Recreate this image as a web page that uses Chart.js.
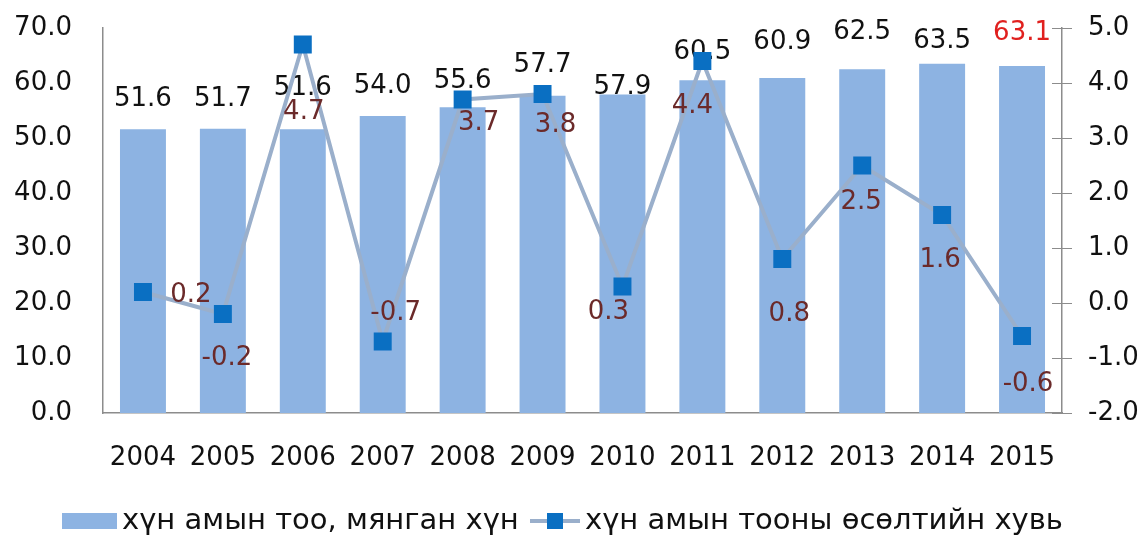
<!DOCTYPE html>
<html>
<head>
<meta charset="utf-8">
<script src="https://cdn.jsdelivr.net/npm/chart.js@4.4.1/dist/chart.umd.min.js"></script>
<style>
  html, body { margin: 0; padding: 0; background: #ffffff; }
  #wrap { width: 1148px; height: 546px; position: relative; }
</style>
</head>
<body>
<div id="wrap"><canvas id="c" width="1148" height="546"></canvas></div>
<script>
// ---- data ----
const years = ['2004','2005','2006','2007','2008','2009','2010','2011','2012','2013','2014','2015'];
const population = [51.6, 51.7, 51.6, 54.0, 55.6, 57.7, 57.9, 60.5, 60.9, 62.5, 63.5, 63.1];
const growth = [0.2, -0.2, 4.7, -0.7, 3.7, 3.8, 0.3, 4.4, 0.8, 2.5, 1.6, -0.6];
const seriesNames = ['хүн амын тоо, мянган хүн', 'хүн амын тооны өсөлтийн хувь'];
const leftAxis = { min: 0, max: 70, step: 10 };
const rightAxis = { min: -2, max: 5, step: 1 };

// ---- styles ----
const FONT = 'DejaVu Sans';
const FSIZE = 26;
const barColor = '#8DB3E2';
const lineColor = '#9AAFCB';
const markerColor = '#0A6FC2';
const lineLabelColor = '#6B2A2A';
const axisColor = '#8C8C8C';
// label placement (dy relative to bar top; dx,dy relative to marker centre)
const barLabelDy = [-30, -29, -41, -30, -26, -30, -7, -28, -36, -37, -23, -33];
const barLabelColors = ['#111','#111','#111','#111','#111','#111','#111','#111','#111','#111','#111','#E0201E'];
const lineLabelOffsets = [[48,3],[4,44],[1,68],[13,-28],[16,24],[13,31],[-14,26],[-10,45],[7,55],[-1,37],[-2,45],[6,48]];

const labelsPlugin = {
  id: 'labelsPlugin',
  afterDatasetDraw(chart, args) {
    const ds = chart.data.datasets[args.index];
    const ctx = chart.ctx;
    if (ds.type === 'bar') {
      const meta = args.meta;
      ctx.save();
      ctx.font = FSIZE + 'px "' + FONT + '"';
      ctx.textAlign = 'center';
      ctx.textBaseline = 'middle';
      meta.data.forEach((el, i) => {
        ctx.fillStyle = barLabelColors[i];
        ctx.fillText(ds.data[i].toFixed(1), el.x, el.y + barLabelDy[i]);
      });
      ctx.restore();
    }
  },
  afterDatasetsDraw(chart) {
    const ctx = chart.ctx;
    const idx = chart.data.datasets.findIndex(d => d.type === 'line');
    const meta = chart.getDatasetMeta(idx);
    const ds = chart.data.datasets[idx];
    ctx.save();
    ctx.font = FSIZE + 'px "' + FONT + '"';
    ctx.textAlign = 'center';
    ctx.textBaseline = 'middle';
    ctx.fillStyle = lineLabelColor;
    meta.data.forEach((el, i) => {
      const o = lineLabelOffsets[i];
      ctx.fillText(ds.data[i].toFixed(1), el.x + o[0], el.y + o[1]);
    });
    ctx.restore();
  },
  afterDraw(chart) {
    const ctx = chart.ctx;
    // right-axis tick marks crossing the axis line
    const s = chart.scales.y1;
    ctx.save();
    ctx.strokeStyle = axisColor;
    ctx.lineWidth = 1;
    s.ticks.forEach((t, i) => {
      const y = Math.round(s.getPixelForTick(i)) + 0.5;
      ctx.beginPath();
      ctx.moveTo(s.left - 10, y);
      ctx.lineTo(s.left + 10, y);
      ctx.stroke();
    });
    // legend
    const ly = 521;
    ctx.fillStyle = barColor;
    ctx.fillRect(62, ly - 8, 55, 16);
    ctx.font = '29px "' + FONT + '"';
    ctx.textBaseline = 'middle';
    ctx.textAlign = 'left';
    ctx.fillStyle = '#111';
    ctx.fillText(chart.data.datasets[1].label, 122, ly);
    ctx.strokeStyle = lineColor;
    ctx.lineWidth = 4;
    ctx.beginPath();
    ctx.moveTo(530, ly);
    ctx.lineTo(580, ly);
    ctx.stroke();
    ctx.fillStyle = markerColor;
    ctx.fillRect(547, ly - 8, 16, 16);
    ctx.fillStyle = '#111';
    ctx.fillText(chart.data.datasets[0].label, 585, ly);
    ctx.restore();
  }
};

new Chart(document.getElementById('c'), {
  type: 'bar',
  data: {
    labels: years,
    datasets: [
      {
        type: 'line', label: seriesNames[1], data: growth, yAxisID: 'y1', order: 0,
        borderColor: lineColor, borderWidth: 4, pointStyle: 'rect', pointRadius: 12.7, pointHoverRadius: 12.7,
        pointBackgroundColor: markerColor, pointBorderWidth: 0, tension: 0
      },
      {
        type: 'bar', label: seriesNames[0], data: population, yAxisID: 'y', order: 1,
        backgroundColor: barColor, categoryPercentage: 1, barPercentage: 0.575
      }
    ]
  },
  options: {
    responsive: false,
    animation: false,
    layout: { padding: { top: 28, left: 0, right: 0, bottom: 0 } },
    plugins: { legend: { display: false }, tooltip: { enabled: false } },
    scales: {
      x: {
        grid: { display: false, drawTicks: true, tickLength: 30 },
        border: { display: true, color: axisColor, width: 1.5 },
        ticks: { color: '#111', font: { family: FONT, size: FSIZE }, padding: 0, maxRotation: 0, autoSkip: false },
        afterFit(scale) { scale.height = 133; }
      },
      y: {
        position: 'left', min: leftAxis.min, max: leftAxis.max,
        grid: { display: false, drawTicks: true, tickLength: 31 },
        border: { display: true, color: axisColor, width: 1.5 },
        ticks: { stepSize: leftAxis.step, color: '#111', font: { family: FONT, size: FSIZE }, padding: 0,
                 callback: v => Number(v).toFixed(1) },
        afterFit(scale) { scale.width = 103; }
      },
      y1: {
        position: 'right', min: rightAxis.min, max: rightAxis.max,
        grid: { display: false, drawTicks: true, tickLength: 26 },
        border: { display: true, color: axisColor, width: 1.5 },
        ticks: { stepSize: rightAxis.step, color: '#111', font: { family: FONT, size: FSIZE }, padding: 0,
                 callback: v => Number(v).toFixed(1) },
        afterFit(scale) { scale.width = 86; }
      }
    }
  },
  plugins: [labelsPlugin]
});
</script>
</body>
</html>
